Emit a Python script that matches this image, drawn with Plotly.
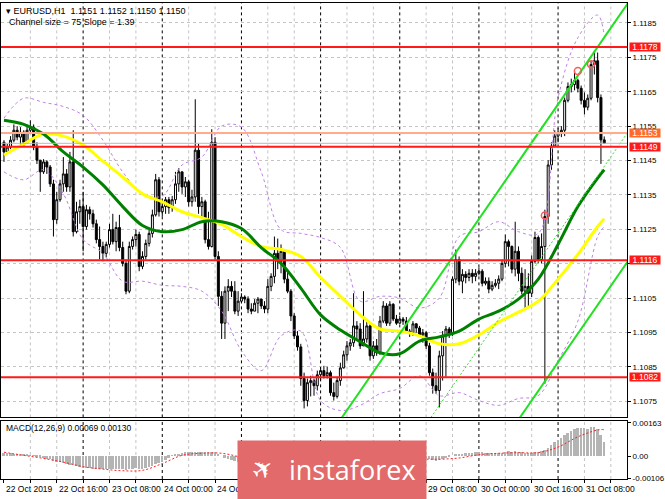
import plotly.graph_objects as go

# ---------------- data (EURUSD H1, bar 0 = 22 Oct 2019 00:00) ----------------
first_open = 1.11503
bar_close = [1.11475,1.11489,1.11509,1.11538,1.11518,1.11532,1.11503,1.11538,1.11547,1.11489,
 1.11451,1.11417,1.11446,1.11431,1.11382,1.11278,1.11336,1.11382,1.11411,1.11373,
 1.11446,1.11243,1.11301,1.11316,1.11258,1.11307,1.11295,1.11266,1.11220,1.11200,
 1.11180,1.11206,1.11249,1.11214,1.11255,1.11197,1.11151,1.11070,1.11200,1.11220,
 1.11235,1.11142,1.11171,1.11209,1.11238,1.11292,1.11394,1.11301,1.11316,1.11336,
 1.11313,1.11336,1.11382,1.11417,1.11373,1.11388,1.11330,1.11344,1.11480,1.11316,
 1.11330,1.11220,1.11200,1.11503,1.11171,1.11055,1.10977,1.11070,1.11084,1.11070,
 1.11012,1.11041,1.11053,1.11047,1.11018,1.11012,1.11035,1.11047,1.11027,1.11018,
 1.11084,1.11113,1.11180,1.11157,1.11186,1.11105,1.11070,1.10998,1.10940,1.10908,
 1.10816,1.10752,1.10804,1.10810,1.10795,1.10827,1.10839,1.10824,1.10833,1.10775,
 1.10764,1.10810,1.10847,1.10885,1.10911,1.10920,1.10969,1.10960,1.10911,1.10931,
 1.10969,1.10882,1.10911,1.10891,1.10983,1.11027,1.10977,1.11032,1.10989,1.10977,
 1.10989,1.10983,1.10954,1.10949,1.10975,1.10963,1.10943,1.10949,1.10911,1.10833,
 1.10795,1.10781,1.10882,1.10940,1.10960,1.10946,1.11105,1.11162,1.11099,1.11119,
 1.11110,1.11122,1.11113,1.11122,1.11128,1.11093,1.11099,1.11076,1.11087,1.11093,
 1.11105,1.11151,1.11214,1.11200,1.11134,1.11186,1.11122,1.11070,1.11084,1.11064,
 1.11157,1.11226,1.11162,1.11200,1.11287,1.11437,1.11492,1.11521,1.11532,1.11538,
 1.11625,1.11665,1.11671,1.11683,1.11660,1.11625,1.11605,1.11631,1.11729,1.11740,
 1.11633,1.11510,1.11500]
bar_high = [1.11509,1.11498,1.11521,1.11555,1.11550,1.11547,1.11538,1.11555,1.11567,1.11555,
 1.11503,1.11451,1.11454,1.11451,1.11437,1.11394,1.11359,1.11394,1.11460,1.11425,
 1.11475,1.11538,1.11330,1.11336,1.11359,1.11321,1.11316,1.11307,1.11278,1.11258,
 1.11214,1.11214,1.11266,1.11295,1.11272,1.11292,1.11214,1.11162,1.11214,1.11229,
 1.11249,1.11243,1.11186,1.11220,1.11249,1.11307,1.11411,1.11402,1.11336,1.11344,
 1.11344,1.11347,1.11417,1.11428,1.11394,1.11402,1.11394,1.11365,1.11628,1.11498,
 1.11344,1.11336,1.11301,1.11541,1.11518,1.11186,1.11070,1.11084,1.11105,1.11099,
 1.11099,1.11070,1.11064,1.11058,1.11055,1.11035,1.11047,1.11053,1.11047,1.11041,
 1.11105,1.11122,1.11229,1.11223,1.11206,1.11191,1.11128,1.11076,1.11006,1.10954,
 1.10917,1.10833,1.10816,1.10824,1.10816,1.10839,1.10850,1.10853,1.10850,1.10839,
 1.10804,1.10821,1.10862,1.10897,1.10925,1.10931,1.11064,1.10983,1.10977,1.11070,
 1.10983,1.10977,1.10925,1.10931,1.10998,1.11041,1.11035,1.11041,1.11035,1.11001,
 1.10998,1.10995,1.10995,1.10960,1.10983,1.10977,1.10969,1.10960,1.10954,1.10920,
 1.10845,1.10833,1.10897,1.10954,1.10969,1.10966,1.11113,1.11191,1.11171,1.11134,
 1.11128,1.11134,1.11134,1.11134,1.11139,1.11134,1.11110,1.11110,1.11099,1.11105,
 1.11116,1.11162,1.11235,1.11220,1.11203,1.11272,1.11200,1.11139,1.11134,1.11122,
 1.11174,1.11243,1.11232,1.11238,1.11307,1.11451,1.11503,1.11538,1.11544,1.11550,
 1.11633,1.11677,1.11688,1.11712,1.11688,1.11668,1.11648,1.11642,1.11740,1.11769,
 1.11764,1.11642,1.11520]
bar_low = [1.11446,1.11469,1.11483,1.11503,1.11509,1.11489,1.11489,1.11498,1.11527,1.11480,
 1.11440,1.11359,1.11411,1.11411,1.11373,1.11229,1.11266,1.11330,1.11359,1.11359,
 1.11359,1.11229,1.11238,1.11266,1.11186,1.11249,1.11278,1.11255,1.11209,1.11162,
 1.11157,1.11168,1.11197,1.11206,1.11186,1.11186,1.11142,1.11061,1.11064,1.11191,
 1.11200,1.11128,1.11134,1.11162,1.11200,1.11226,1.11287,1.11287,1.11287,1.11295,
 1.11295,1.11301,1.11324,1.11359,1.11353,1.11344,1.11316,1.11316,1.11330,1.11295,
 1.11281,1.11209,1.11191,1.11197,1.11162,1.11027,1.10931,1.10931,1.11012,1.11053,
 1.11003,1.10998,1.11035,1.11035,1.11006,1.11003,1.11012,1.11006,1.11018,1.11006,
 1.11006,1.11070,1.11093,1.11134,1.11122,1.11093,1.11064,1.10983,1.10931,1.10897,
 1.10795,1.10729,1.10735,1.10764,1.10766,1.10781,1.10810,1.10816,1.10816,1.10766,
 1.10752,1.10758,1.10795,1.10845,1.10868,1.10897,1.10908,1.10925,1.10902,1.10911,
 1.10920,1.10868,1.10873,1.10882,1.10885,1.10977,1.10969,1.10969,1.10983,1.10972,
 1.10975,1.10972,1.10949,1.10937,1.10940,1.10949,1.10937,1.10920,1.10902,1.10824,
 1.10772,1.10772,1.10732,1.10810,1.10821,1.10934,1.10940,1.11093,1.11087,1.11064,
 1.11093,1.11099,1.11093,1.11099,1.11116,1.11084,1.11087,1.11064,1.11070,1.11081,
 1.11076,1.11099,1.11139,1.11142,1.11122,1.11113,1.11099,1.11061,1.11021,1.11021,
 1.11053,1.11151,1.11151,1.11151,1.10801,1.11266,1.11423,1.11489,1.11503,1.11518,
 1.11521,1.11619,1.11648,1.11654,1.11648,1.11613,1.11584,1.11596,1.11625,1.11700,
 1.11619,1.11440,1.11500]

# indicator samples (every 6 bars + last bar)
ind_bars = [0,6,12,18,24,30,36,42,48,54,60,66,72,78,84,90,96,102,108,114,120,126,132,138,144,150,156,162,168,174,180,182]
ma_green = [1.11567,1.11555,1.11527,1.11475,1.11431,1.11379,1.11316,1.11261,1.11243,1.11249,1.11272,1.11272,1.11252,1.11197,1.11151,1.11079,
 1.11001,1.10957,1.10923,1.10891,1.10888,1.10925,1.10937,1.10954,1.10989,1.11012,1.11047,1.11105,1.11206,1.11316,1.11399,1.11423]
ma_yellow = [1.11466,1.11498,1.11527,1.11521,1.11495,1.11448,1.11402,1.11353,1.11330,1.11301,1.11284,1.11264,1.11229,1.11200,1.11191,1.11171,
 1.11110,1.11055,1.11001,1.10960,1.10954,1.10940,1.10917,1.10917,1.10943,1.10980,1.11009,1.11041,1.11105,1.11177,1.11258,1.11281]
bb_upper = [1.11573,1.11631,1.11619,1.11607,1.11581,1.11509,1.11417,1.11353,1.11347,1.11437,1.11460,1.11550,1.11547,1.11417,1.11249,1.11238,
 1.11226,1.11197,1.11041,1.11055,1.11050,1.11021,1.11050,1.11229,1.11243,1.11272,1.11243,1.11238,1.11633,1.11807,1.11873,1.11813]
bb_lower = [1.11417,1.11394,1.11423,1.11353,1.11220,1.11180,1.11099,1.11099,1.11087,1.11084,1.11070,1.11012,1.10897,1.10839,1.10940,1.10954,
 1.10752,1.10723,1.10738,1.10772,1.10787,1.10824,1.10766,1.10775,1.10752,1.10738,1.10758,1.10766,1.10868,1.10983,1.11229,1.11258]

# MACD(12,26,9), values in 1e-5
macd_hist_e5 = [15,14,13,12,10,8,6,5,3,1,
 -3,-7,-10,-13,-17,-23,-27,
 -30,-34,-38,-42,-46,-50,-53,-56,-58,
 -60,-61,-62,-63,-64,-64,-63,-62,-61,-61,
 -62,-66,-64,-62,-60,-62,-61,-59,-55,-48,-38,-34,
 -28,-18,-8,2,8,
 12,15,17,18,18,20,21,20,19,17,20,18,
 10,0,-8,-14,-18,-23,-27,
 -30,-33,-35,-37,-38,-39,-40,-41,-40,-38,-33,-30,-28,-28,-30,-35,
 -42,-50,-60,-72,-80,-86,-90,-93,-95,-97,-98,-100,-102,
 -100,-97,-92,-86,-80,-72,-66,-60,-56,-50,-48,-45,-42,-36,-30,
 -26,-22,-18,-16,-14,-12,-11,-11,-10,-9,-9,-9,-10,-14,-19,-23,-20,-14,-10,-7,
 0,8,10,12,14,15,16,17,18,17,16,15,14,14,14,16,20,22,21,22,20,17,15,13,15,20,21,22,
 28,40,55,68,78,88,100,112,122,130,134,135,134,133,140,142,132,100,69]
macd_signal_e5 = [20,5,-10,-28,-50,-62,-70,-68,-35,5,15,15,-5,-30,-38,-45,-80,-97,-85,-62,-35,-15,-14,-8,8,15,18,18,45,95,128,130]

# levels and channel
red_levels = [1.1178, 1.1149, 1.1116, 1.1082]
ask_level = 1.1153
bid_level = 1.1150
channel_bars = [95, 190]
channel_upper = [1.10599, 1.11919]
channel_size = 0.0075
fractal_bars = [164, 174, 178]
fractal_prices = [1.1129, 1.1171, 1.1173]

price_ticks = [1.1075,1.1085,1.1095,1.1105,1.1115,1.1125,1.1135,1.1145,1.1155,1.1165,1.1175,1.1185]
hidden_price_ticks = [1.1115]          # covered by the 1.1116 level box in the original
time_label_bars = [0, 16, 32, 48, 64, 128, 144, 160, 176]
time_labels = ["22 Oct 2019", "22 Oct 16:00", "23 Oct 08:00", "24 Oct 00:00", "24 Oct 16:00",
               "29 Oct 08:00", "30 Oct 00:00", "30 Oct 16:00", "31 Oct 08:00"]

# ---------------- figure ----------------
bars = list(range(len(bar_close)))
bar_open = [first_open] + bar_close[:-1]
hi = [max(h, o, c) for h, o, c in zip(bar_high, bar_open, bar_close)]
lo = [min(l, o, c) for l, o, c in zip(bar_low, bar_open, bar_close)]

FONT = "Liberation Sans"
PW, PH = 631, 479  # plot area px


def px_x(p):
    return p / PW


def px_y(p):
    return (PH - p) / PH


fig = go.Figure()
fig.add_trace(go.Candlestick(
    x=bars, open=bar_open, high=hi, low=lo, close=bar_close,
    increasing=dict(line=dict(color="black", width=1), fillcolor="white"),
    decreasing=dict(line=dict(color="black", width=1), fillcolor="black"),
    whiskerwidth=0, showlegend=False, hoverinfo="skip"))

for band in (bb_upper, bb_lower):
    fig.add_trace(go.Scatter(x=ind_bars, y=band, mode="lines", line=dict(color="#bf80e6", width=1, dash="3px,3px", shape="spline"),
                             showlegend=False, hoverinfo="skip"))
fig.add_trace(go.Scatter(x=ind_bars, y=ma_yellow, mode="lines", line=dict(color="#ffff00", width=3, shape="spline"),
                         showlegend=False, hoverinfo="skip"))
fig.add_trace(go.Scatter(x=ind_bars, y=ma_green, mode="lines", line=dict(color="#008000", width=3, shape="spline"),
                         showlegend=False, hoverinfo="skip"))

ch_mid = [v - channel_size / 2 for v in channel_upper]
ch_low = [v - channel_size for v in channel_upper]
fig.add_trace(go.Scatter(x=channel_bars, y=channel_upper, mode="lines", line=dict(color="#22e022", width=2), showlegend=False, hoverinfo="skip"))
fig.add_trace(go.Scatter(x=channel_bars, y=ch_low, mode="lines", line=dict(color="#22e022", width=2), showlegend=False, hoverinfo="skip"))
fig.add_trace(go.Scatter(x=channel_bars, y=ch_mid, mode="lines", line=dict(color="#33dd33", width=1, dash="2px,2px"), showlegend=False, hoverinfo="skip"))
fig.add_trace(go.Scatter(x=fractal_bars, y=fractal_prices, mode="markers",
                         marker=dict(symbol="circle-open", size=7, color="#ff5a5a", line=dict(width=1.5)),
                         showlegend=False, hoverinfo="skip"))

# MACD panel
fig.add_trace(go.Bar(x=bars, y=[v * 1e-5 for v in macd_hist_e5], marker=dict(color="#b4b4b4", line=dict(width=0)),
                     width=0.6, xaxis="x2", yaxis="y2", showlegend=False, hoverinfo="skip"))
fig.add_trace(go.Scatter(x=ind_bars, y=[v * 1e-5 for v in macd_signal_e5], mode="lines",
                         line=dict(color="#ff2020", width=1, dash="2px,2px", shape="spline"),
                         xaxis="x2", yaxis="y2", showlegend=False, hoverinfo="skip"))

shapes = []
# vertical grid / day separators
for k in range(8, 189, 8):
    sep = (k % 24 == 0)
    for yr in ("y domain", "y2 domain"):
        shapes.append(dict(type="line", xref="x", yref=yr, x0=k, x1=k, y0=0, y1=1, layer="below",
                           line=dict(color="#000000" if sep else "#c4c4c4", width=1, dash="3px,3px")))
# horizontal levels
shapes.append(dict(type="line", xref="x domain", yref="y", x0=0, x1=1, y0=bid_level, y1=bid_level, layer="above",
                   line=dict(color="#b8b8b8", width=1)))
shapes.append(dict(type="line", xref="x domain", yref="y", x0=0, x1=1, y0=ask_level, y1=ask_level, layer="above",
                   line=dict(color="#ffab8c", width=2)))
for lv in red_levels:
    shapes.append(dict(type="line", xref="x domain", yref="y", x0=0, x1=1, y0=lv, y1=lv, layer="above",
                       line=dict(color="#ff1a1a", width=2)))

annotations = []
# header
annotations.append(dict(xref="paper", yref="paper", x=px_x(3), y=px_y(1), xanchor="left", yanchor="top", showarrow=False,
                        text="▾ EURUSD,H1  1.1151 1.1152 1.1150 1.1150", font=dict(family=FONT, size=9, color="#000")))
annotations.append(dict(xref="paper", yref="paper", x=px_x(6), y=px_y(12), xanchor="left", yanchor="top", showarrow=False,
                        text="Channel size = 75 Slope = 1.39", font=dict(family=FONT, size=9, color="#000")))
annotations.append(dict(xref="paper", yref="paper", x=px_x(3), y=px_y(421), xanchor="left", yanchor="top", showarrow=False,
                        text="MACD(12,26,9) 0.00069 0.00130", font=dict(family=FONT, size=8.5, color="#000")))
# right price boxes
for lv, col in [(red_levels[0], "#ff1a1a"), (ask_level, "#ff6a2b"), (red_levels[1], "#ff1a1a"),
                (red_levels[2], "#ff1a1a"), (red_levels[3], "#ff1a1a")]:
    annotations.append(dict(xref="paper", yref="y", x=1, y=lv, xanchor="left", yanchor="middle", xshift=2, showarrow=False,
                            text=f"{lv:.4f}", bgcolor=col, borderpad=0, height=8, width=30,
                            font=dict(family=FONT, size=8.5, color="white")))
# time labels
for b, t in zip(time_label_bars, time_labels):
    annotations.append(dict(xref="x2", yref="paper", x=b, y=0, xanchor="left", yanchor="top", yshift=-3, xshift=0,
                            showarrow=False, text=t, font=dict(family=FONT, size=8.5, color="#000")))
# watermark
annotations.append(dict(xref="paper", yref="paper", x=px_x(238), y=px_y(440), xanchor="left", yanchor="top", showarrow=False,
                        text=" ", width=188, height=60, bgcolor="#e26a6a", borderpad=0))
annotations.append(dict(xref="paper", yref="paper", x=px_x(264), y=px_y(469), xanchor="center", yanchor="middle", showarrow=False,
                        text="✈", textangle=-35, font=dict(family="DejaVu Sans", size=26, color="white")))
annotations.append(dict(xref="paper", yref="paper", x=px_x(288), y=px_y(469), xanchor="left", yanchor="middle", showarrow=False,
                        text="instaforex", font=dict(family="Open Sans", size=27, color="white")))

fig.update_layout(
    width=665, height=499, margin=dict(l=0, r=34, t=0, b=20),
    paper_bgcolor="white", plot_bgcolor="white",
    shapes=shapes, annotations=annotations, showlegend=False, bargap=0,
    boxgap=0.15,
    xaxis=dict(domain=[0, 1], anchor="y", range=[-0.9, 188.9], showticklabels=False, showgrid=False, zeroline=False,
               showline=True, mirror=True, linecolor="#000", linewidth=1, rangeslider=dict(visible=False), ticks=""),
    xaxis2=dict(domain=[0, 1], anchor="y2", matches="x", range=[-0.9, 188.9], showticklabels=False, showgrid=False,
                zeroline=False, showline=True, mirror=True, linecolor="#000", linewidth=1,
                tickmode="array", tickvals=list(range(0, 189, 8)), ticks="outside", ticklen=3, tickcolor="#000"),
    yaxis=dict(domain=[62 / PH, 1], anchor="x", side="right", range=[1.10703, 1.11908], tickmode="array",
               tickvals=price_ticks,
               ticktext=["" if v in hidden_price_ticks else f"{v:.4f}" for v in price_ticks],
               ticks="outside", ticklen=3,
               tickcolor="#000", tickfont=dict(family=FONT, size=8, color="#000"), showgrid=True,
               gridcolor="#c4c4c4", griddash="3px,3px", zeroline=False, showline=True, mirror=True,
               linecolor="#000", linewidth=1),
    yaxis2=dict(domain=[0, 58 / PH], anchor="x2", side="right", range=[-0.00110, 0.00170], tickmode="array",
                tickvals=[-0.00106, 0, 0.00163], ticktext=["-0.00106", "0.00", "0.00163"], ticks="outside", ticklen=3,
                tickcolor="#000", tickfont=dict(family=FONT, size=8, color="#000"), showgrid=False,
                zeroline=False, showline=True, mirror=True, linecolor="#000", linewidth=1),
)

fig.write_html("out.html")
